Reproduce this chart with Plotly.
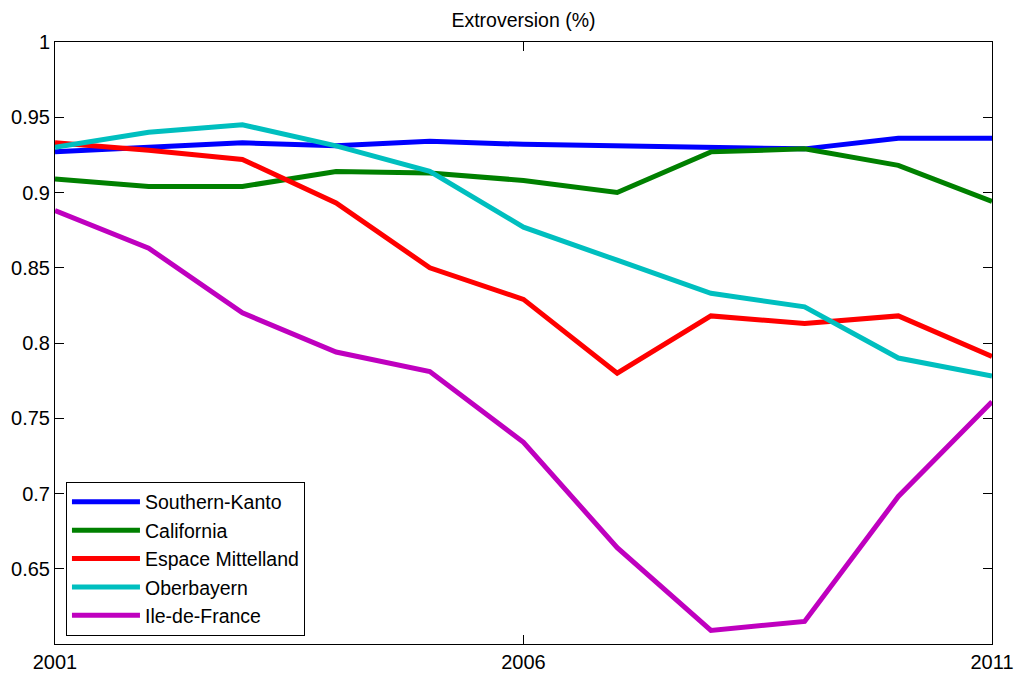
import plotly.graph_objects as go

years = list(range(2001, 2012))
southern_kanto = [0.927, 0.930, 0.933, 0.931, 0.934, 0.932, 0.931, 0.930, 0.929, 0.936, 0.936]
california = [0.909, 0.904, 0.904, 0.914, 0.913, 0.908, 0.900, 0.927, 0.929, 0.918, 0.894]
espace_mittelland = [0.933, 0.928, 0.922, 0.893, 0.850, 0.829, 0.780, 0.818, 0.813, 0.818, 0.791]
oberbayern = [0.930, 0.940, 0.945, 0.931, 0.914, 0.877, 0.855, 0.833, 0.824, 0.790, 0.778]
ile_de_france = [0.888, 0.863, 0.820, 0.794, 0.781, 0.734, 0.664, 0.609, 0.615, 0.698, 0.761]

series = [
    ("Southern-Kanto", southern_kanto, "#0000ff"),
    ("California", california, "#008000"),
    ("Espace Mittelland", espace_mittelland, "#ff0000"),
    ("Oberbayern", oberbayern, "#00bfbf"),
    ("Ile-de-France", ile_de_france, "#bf00bf"),
]

y_ticks = [0.65, 0.7, 0.75, 0.8, 0.85, 0.9, 0.95, 1.0]
y_ticktext = ["0.65", "0.7", "0.75", "0.8", "0.85", "0.9", "0.95", "1"]
x_ticks = [2001, 2006, 2011]

fig = go.Figure()
for name, vals, color in series:
    fig.add_trace(go.Scatter(x=years, y=vals, mode="lines", name=name,
                             line=dict(color=color, width=5)))

font = "Liberation Sans, Arial, sans-serif"
fig.update_layout(
    width=1018, height=674,
    margin=dict(l=55, r=26, t=42, b=30, autoexpand=False),
    paper_bgcolor="white", plot_bgcolor="white",
    title=dict(text="Extroversion (%)", x=0.5, xanchor="center", xref="paper",
               y=1 - 20 / 674, yanchor="middle",
               font=dict(family=font, size=19.5, color="black")),
    font=dict(family=font, size=20, color="black"),
    showlegend=True,
    legend=dict(x=0.0117, y=0.0138, xanchor="left", yanchor="bottom",
                bgcolor="white", bordercolor="black", borderwidth=1,
                font=dict(family=font, size=19.5, color="black"),
                itemwidth=68, tracegroupgap=0),
)
fig.update_xaxes(range=[2001, 2011], tickvals=x_ticks, ticktext=[str(v) for v in x_ticks],
                 automargin=False,
                 showgrid=False, zeroline=False, showline=True, linecolor="black", linewidth=1,
                 mirror="ticks", ticks="inside", ticklen=9, tickcolor="black",
                 tickfont=dict(family=font, size=20, color="black"))
fig.update_yaxes(range=[0.6, 1.0], tickvals=y_ticks, ticktext=y_ticktext,
                 automargin=False,
                 showgrid=False, zeroline=False, showline=True, linecolor="black", linewidth=1,
                 mirror="ticks", ticks="inside", ticklen=9, tickcolor="black",
                 tickfont=dict(family=font, size=20, color="black"))

fig.write_html("out.html", config={"displayModeBar": False},
               post_script="document.body.style.margin='0';document.body.style.overflow='hidden';")
